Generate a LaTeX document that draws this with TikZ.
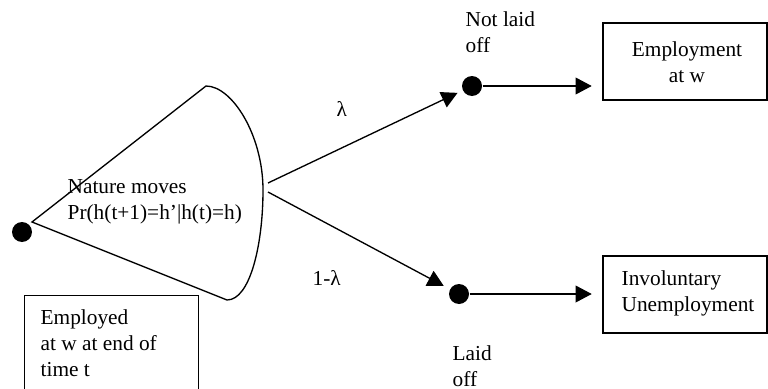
\documentclass[tikz,border=0pt]{standalone}
\usepackage{fontspec}
\setmainfont{Liberation Serif}
\usetikzlibrary{arrows.meta}
\begin{document}
\begin{tikzpicture}[x=0.75pt,y=-0.75pt, line width=1pt,
  dot/.style={circle,fill=black,inner sep=0pt,minimum size=15pt},
  box/.style={draw,rectangle,inner sep=0pt,line width=0.9pt},
  lbl/.style={font=\fontsize{16}{19.2}\selectfont, inner sep=0pt, align=left, anchor=base west},
  arr/.style={-{Triangle[length=12pt,width=12.5pt]}}]
\useasboundingbox (0,0) rectangle (768,389);
% nodes
\node[dot] (start) at (22,232) {};
\node[dot] (up) at (472,86) {};
\node[dot] (down) at (459,294) {};
\coordinate (apex) at (32,222);
\coordinate (fanU) at (268,183);
\coordinate (fanD) at (268,192);
% fan
\draw (apex) -- (206,86)
  .. controls (232,86) and (263,135) .. (263,190)
  .. controls (263,245) and (250,300) .. (227,300)
  -- cycle;
% boxes
\node[box, minimum width=123pt, minimum height=57.75pt] (emp) at (685,61.5) {};
\node[box, minimum width=123pt, minimum height=57.75pt] (inv) at (685,294.5) {};
\node[box, minimum width=130.5pt, minimum height=71.25pt, anchor=north west] (init) at (24,295) {};
% connectors
\draw[arr, shorten >=4pt] (fanU) -- (up);
\draw[arr, shorten >=5pt] (fanD) -- (down);
\draw[arr, shorten >=8pt] (up) -- (up -| emp.west);
\draw[arr, shorten >=8pt] (down) -- (down -| inv.west);
% texts (multi-line nodes: base = last line's baseline)
\node[lbl] (nat) at (67,219) {Nature moves\\Pr(h(t+1)=h’|h(t)=h)};
\node[lbl] (nlo) at (465,52) {Not laid\\off};
\node[lbl] (lo) at (452,386) {Laid\\off};
\node[lbl] (lam) at (336,116) {λ};
\node[lbl] (lam2) at (312,285) {1-λ};
\node[lbl, align=center, anchor=base] (empt) at (687,82) {Employment\\at w};
\node[lbl] (invt) at (621,311) {Involuntary\\Unemployment};
\node[lbl] (initt) at (40,376) {Employed\\at w at end of\\time t};
\end{tikzpicture}
\end{document}
